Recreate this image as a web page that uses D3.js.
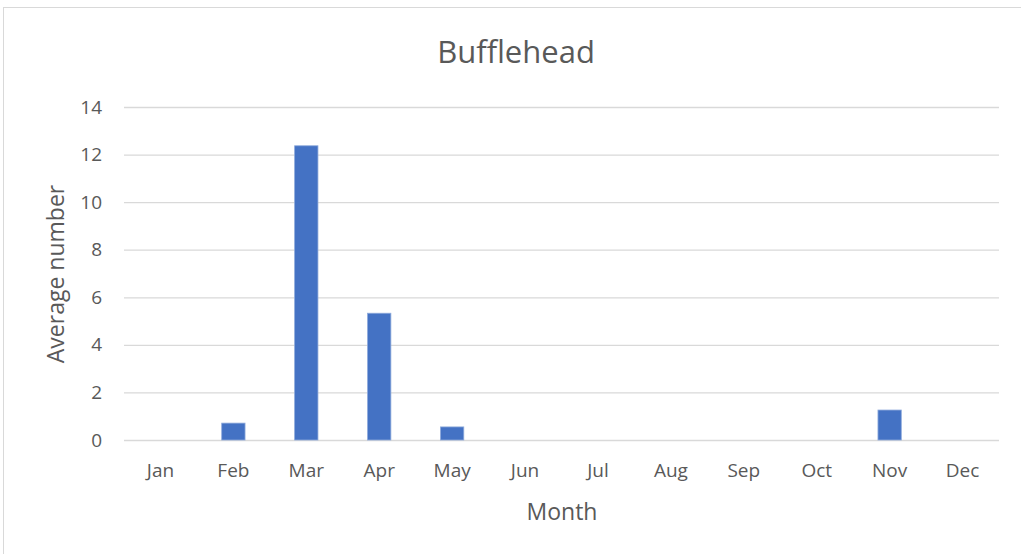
<!doctype html>
<html>
<head>
<meta charset="utf-8"/>
<title>Bufflehead</title>
<script src="https://cdnjs.cloudflare.com/ajax/libs/d3/7.8.5/d3.min.js"></script>
<style>
  body { margin: 0; background: #fff; }
  text { font-family: "Open Sans", "Noto Sans", sans-serif; fill: #595959; }
</style>
</head>
<body>
<svg id="chart" width="1021" height="554"></svg>
<script>
  // data
  var months = ["Jan","Feb","Mar","Apr","May","Jun","Jul","Aug","Sep","Oct","Nov","Dec"];
  var avgCount = [0, 0.71, 12.37, 5.33, 0.55, 0, 0, 0, 0, 0, 1.26, 0];
  var yTicks = [0, 2, 4, 6, 8, 10, 12, 14];

  var svg = d3.select("#chart");

  // outer chart border
  svg.append("rect").attr("x", 3.5).attr("y", 7.5).attr("width", 1030).attr("height", 560)
    .attr("fill", "none").attr("stroke", "#d9d9d9");

  var plotL = 124, plotR = 999, plotT = 107, plotB = 440;

  var x = d3.scaleBand().domain(months).range([plotL, plotR]).paddingInner(0.68).paddingOuter(0.34);
  var y = d3.scaleLinear().domain([0, 14]).range([plotB, plotT]);

  // gridlines
  svg.append("g").selectAll("line").data(yTicks).enter().append("line")
    .attr("x1", plotL).attr("x2", plotR)
    .attr("y1", function(d){ return y(d) + 0.5; })
    .attr("y2", function(d){ return y(d) + 0.5; })
    .attr("stroke", "#d9d9d9").attr("stroke-width", 1.3);

  // y axis labels
  var yAxis = d3.axisLeft(y).tickValues(yTicks).tickSize(0).tickPadding(22);
  var yG = svg.append("g").attr("transform", "translate(" + plotL + ",0)").call(yAxis);
  yG.select(".domain").remove();
  yG.selectAll("text").style("font-size", "19px").style("fill", "#595959");

  // bars
  svg.append("g").selectAll("rect").data(avgCount).enter().append("rect")
    .attr("x", function(d, i){ return x(months[i]); })
    .attr("width", x.bandwidth())
    .attr("y", function(d){ return y(d); })
    .attr("height", function(d){ return y(0) - y(d); })
    .attr("fill", "#4472c4")
    .attr("stroke", function(d){ return d > 0 ? "#8eaadb" : "none"; })
    .attr("stroke-width", 0.8);

  // x axis labels
  var xAxis = d3.axisBottom(x).tickSize(0).tickPadding(24);
  var xG = svg.append("g").attr("transform", "translate(0," + plotB + ")").call(xAxis);
  xG.select(".domain").remove();
  xG.selectAll("text").style("font-size", "19px").style("fill", "#595959");

  // titles
  svg.append("text").attr("x", 516).attr("y", 63).attr("text-anchor", "middle")
    .style("font-size", "31px").text("Bufflehead");

  svg.append("text").attr("x", 562).attr("y", 520).attr("text-anchor", "middle")
    .style("font-size", "23px").text("Month");

  svg.append("text").attr("transform", "translate(64,274) rotate(-90)").attr("text-anchor", "middle")
    .style("font-size", "23px").text("Average number");
</script>
</body>
</html>
